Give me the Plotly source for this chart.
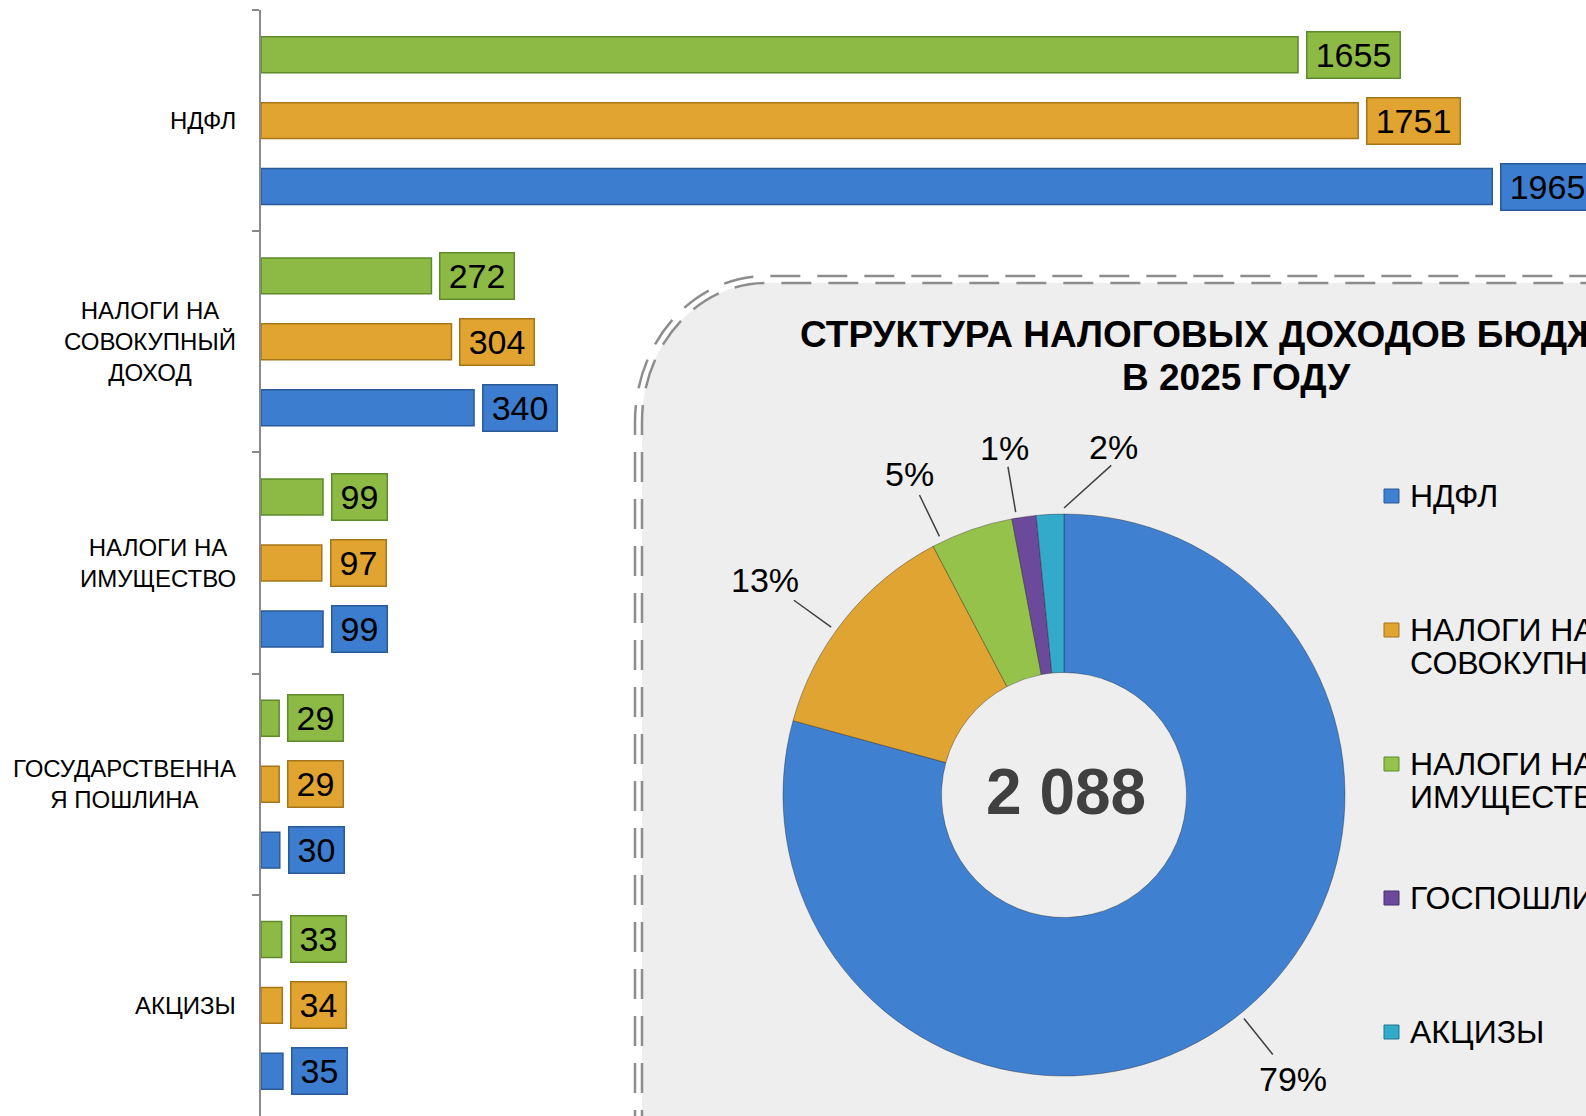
import math
import plotly.graph_objects as go

# bar chart data (three years per tax)
categories = ["НДФЛ", "НАЛОГИ НА<br>СОВОКУПНЫЙ<br>ДОХОД", "НАЛОГИ НА<br>ИМУЩЕСТВО",
              "ГОСУДАРСТВЕННА<br>Я ПОШЛИНА", "АКЦИЗЫ"]
years = ["2025", "2026", "2027"]
values_2025 = [1655, 272, 99, 29, 33]
values_2026 = [1751, 304, 97, 29, 34]
values_2027 = [1965, 340, 99, 30, 35]

# donut data (structure for 2025)
pie_title = ["СТРУКТУРА НАЛОГОВЫХ ДОХОДОВ БЮДЖЕТА", "В 2025 ГОДУ"]
pie_labels = ["НДФЛ", "НАЛОГИ НА<br>СОВОКУПНЫЙ ДОХОД", "НАЛОГИ НА<br>ИМУЩЕСТВО",
              "ГОСПОШЛИНА", "АКЦИЗЫ"]
pie_values = values_2025

FONT = "Liberation Sans, Arial, sans-serif"
W, H = 1586, 1116
ML, MT = 261, 10
PW, PH = W - ML, H - MT


def px(x):
    return (x - ML) / PW


def py(y):
    return (H - y) / PH


bar_colors = ["#8cba45", "#e2a431", "#3c7dcf"]
bar_edges = ["#5f8a2b", "#a57518", "#2a5a98"]
pie_colors = ["#3f80d0", "#e0a432", "#95c24a", "#6b4a9c", "#33aac9"]
pie_edges = ["#2a5a98", "#a57518", "#5f8a2b", "#45306a", "#1f7890"]

BARGAP = 0.106
series = [values_2025, values_2026, values_2027]

fig = go.Figure()
for name, vals, col, edge in zip(years, series, bar_colors, bar_edges):
    fig.add_trace(go.Bar(
        y=categories, x=vals, orientation="h", name=name,
        marker=dict(color=col, line=dict(color=edge, width=1.5)),
        hoverinfo="x+name",
    ))

annotations = []
shapes = []

# value boxes next to bars
slot = (1 - BARGAP) / len(series)
for j, (vals, col, edge) in enumerate(zip(series, bar_colors, bar_edges)):
    off = (j - (len(series) - 1) / 2) * slot
    for i, v in enumerate(vals):
        txt = str(v)
        annotations.append(dict(
            x=v, y=i + off, xref="x", yref="y", text=txt, showarrow=False,
            xanchor="left", yanchor="middle", xshift=8,
            font=dict(size=34, color="#000", family=FONT),
            bgcolor=col, bordercolor=edge, borderwidth=1.5, borderpad=3,
            width=19 * len(txt) + 10, height=39,
        ))

# category labels, centred lines
for i, c in enumerate(categories):
    annotations.append(dict(
        x=px(238), y=i, xref="paper", yref="y", text=c, showarrow=False,
        xanchor="right", yanchor="middle", align="center",
        font=dict(size=24, color="#000", family=FONT),
    ))

# rounded grey panel with a double dashed border
def corner_path(x0, y0, rx, ry, close=False):
    k = 0.5523
    p = (f"M {px(x0)},{py(1140)} L {px(x0)},{py(y0 + ry)} "
         f"C {px(x0)},{py(y0 + ry - k * ry)} {px(x0 + rx - k * rx)},{py(y0)} {px(x0 + rx)},{py(y0)} "
         f"L {px(1620)},{py(y0)}")
    if close:
        p += f" L {px(1620)},{py(1140)} Z"
    return p


shapes.append(dict(type="path", xref="paper", yref="paper", layer="below",
                   path=corner_path(642, 283, 124, 139, close=True),
                   fillcolor="#eeeeee", line=dict(width=0)))
for x0, y0, rx, ry in [(642, 283, 124, 139), (635, 276, 131, 146)]:
    shapes.append(dict(type="path", xref="paper", yref="paper", layer="below",
                       path=corner_path(x0, y0, rx, ry),
                       line=dict(color="#8d8d8d", width=2.5, dash="30px,17px")))

# donut
CX, CY, R = 1064, 795, 281
fig.add_trace(go.Pie(
    labels=pie_labels, values=pie_values, sort=False, direction="clockwise", rotation=0,
    hole=0.436, textinfo="none", showlegend=False,
    marker=dict(colors=pie_colors, line=dict(color="rgba(20,20,20,0.35)", width=1)),
    domain=dict(x=[px(CX - R), px(CX + R)], y=[py(CY + R), py(CY - R)]),
    hoverinfo="label+value+percent",
))

for k, line in enumerate(pie_title):
    annotations.append(dict(
        x=px(1236), y=py(335 + 43 * k), xref="paper", yref="paper", text=line,
        showarrow=False, xanchor="center", yanchor="middle",
        font=dict(size=37, color="#000", family=FONT, weight="bold"),
    ))

total = sum(pie_values)
annotations.append(dict(
    x=px(1066), y=py(792), xref="paper", yref="paper",
    text=f"{total:,}".replace(",", " "), showarrow=False,
    xanchor="center", yanchor="middle",
    font=dict(size=64, color="#404040", family=FONT, weight="bold"),
))

# percentage labels with leader lines
label_turn = [-1.5, -3.0, -6.5, -1.5, 11.0]


def pt(ang, r):
    t = math.radians(ang)
    return CX + r * math.sin(t), CY - r * math.cos(t)


cum = 0
for v, turn in zip(pie_values, label_turn):
    a0, a1 = 360 * cum / total, 360 * (cum + v) / total
    cum += v
    la = (a0 + a1) / 2 + turn
    sa = min(max(la, a0), a1)
    txt = f"{round(100 * v / total)}%"
    x1, y1 = pt(sa, R + 6)
    x2, y2 = pt(la, R + 52)
    shapes.append(dict(type="line", xref="paper", yref="paper", layer="above",
                       x0=px(x1), y0=py(y1), x1=px(x2), y1=py(y2),
                       line=dict(color="#404040", width=1.5)))
    t = math.radians(la)
    w, h = 20 * len(txt), 24
    d = R + 52 + 0.5 * (w * abs(math.sin(t)) + h * abs(math.cos(t))) + 4
    lx, ly = pt(la, d)
    annotations.append(dict(
        x=px(lx), y=py(ly), xref="paper", yref="paper", text=txt, showarrow=False,
        xanchor="center", yanchor="middle",
        font=dict(size=34, color="#000", family=FONT),
    ))

# legend drawn by hand to keep Excel-like spacing
for i, (lab, col, edge) in enumerate(zip(pie_labels, pie_colors, pie_edges)):
    y0 = 496 + 134 * i
    shapes.append(dict(type="rect", xref="paper", yref="paper", layer="above",
                       x0=px(1384), x1=px(1399), y0=py(y0 + 7), y1=py(y0 - 7),
                       fillcolor=col, line=dict(color=edge, width=1)))
    for k, line in enumerate(lab.split("<br>")):
        annotations.append(dict(
            x=px(1408), y=py(y0 + 33 * k), xref="paper", yref="paper", text=line,
            showarrow=False, xanchor="left", yanchor="middle",
            font=dict(size=32, color="#000", family=FONT),
        ))

fig.update_layout(
    width=W, height=H,
    margin=dict(l=ML, r=0, t=MT, b=0),
    paper_bgcolor="white", plot_bgcolor="rgba(0,0,0,0)",
    barmode="group", bargap=BARGAP, bargroupgap=0.455,
    showlegend=False,
    font=dict(family=FONT),
    xaxis=dict(range=[0, PW / 0.6266], visible=False, fixedrange=True),
    yaxis=dict(autorange="reversed", showticklabels=False, showgrid=False, zeroline=False,
               showline=True, linecolor="#8a8a8a", linewidth=1.5,
               ticks="outside", tickson="boundaries", ticklen=7, tickcolor="#8a8a8a",
               tickwidth=1.5, fixedrange=True),
    annotations=annotations,
    shapes=shapes,
)

fig.write_html("out.html", config={"displayModeBar": False},
               post_script="document.body.style.margin = '0';")
